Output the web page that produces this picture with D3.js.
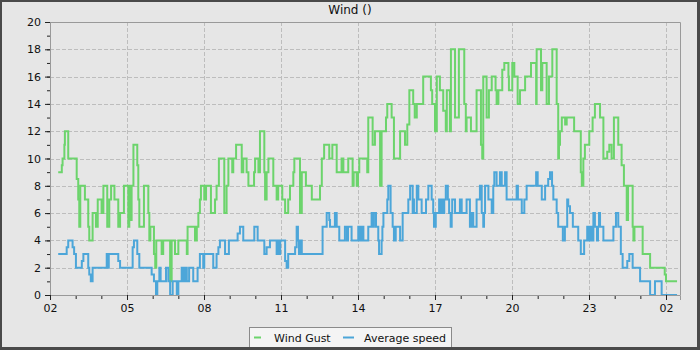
<!DOCTYPE html>
<html><head><meta charset="utf-8">
<script src="https://cdn.jsdelivr.net/npm/d3@7"></script>
<style>html,body{margin:0;padding:0;background:#fff}svg{display:block}</style>
</head><body><svg id="c" width="700" height="350"></svg>
<script>
const chartTitle = "Wind ()";
const seriesNames = ["Wind Gust", "Average speed"];
const seriesColors = ["#6cd46c", "#4ca6d9"];
const xTickHours = [2, 5, 8, 11, 14, 17, 20, 23, 26];
const xTickLabels = ["02", "05", "08", "11", "14", "17", "20", "23", "02"];
const yTickValues = [0, 2, 4, 6, 8, 10, 12, 14, 16, 18, 20];
const xDomain = [2, 26.545];
const yDomain = [0, 20];

// [hour, value] change points (step-after)
const windGust = [[2.32,9],[2.46,9.5],[2.49,10],[2.56,11],[2.58,12],[2.71,10],[3.04,8.5],[3.10,7],[3.14,5],[3.18,8],[3.36,7],[3.49,5],[3.53,4],[3.66,6],[3.79,5],[3.86,7],[4.01,6],[4.08,8],[4.23,5],[4.31,7],[4.38,8],[4.51,7],[4.66,5],[4.73,6],[4.88,8],[5.05,5],[5.09,8],[5.14,5.5],[5.18,8],[5.25,11],[5.40,9.5],[5.44,7],[5.48,5],[5.66,8],[5.83,6],[5.87,4],[5.91,5],[6.05,3],[6.10,2],[6.14,4],[6.35,3],[6.41,4],[6.68,1],[6.74,4],[6.87,3],[7.00,4],[7.33,3],[7.36,5],[7.65,4],[7.72,5],[7.78,6],[7.84,7],[7.88,8],[8.01,7],[8.08,8],[8.27,6],[8.43,7],[8.49,8],[8.58,10],[8.79,6],[8.88,8],[8.95,10],[9.10,9],[9.14,10],[9.25,11],[9.47,9],[9.53,10],[9.66,9],[9.73,8],[9.95,9],[9.99,10],[10.12,9],[10.18,12],[10.35,9],[10.38,7],[10.44,9],[10.51,10],[10.70,8],[10.83,7],[10.89,8],[11.05,7],[11.16,6],[11.28,7],[11.35,8],[11.48,9],[11.52,10],[11.74,6],[11.81,9],[11.97,8],[12.20,7],[12.52,8],[12.59,10],[12.68,11],[12.88,10],[13.00,11],[13.17,9],[13.36,10],[13.43,9],[13.62,10],[13.79,8],[13.83,9],[13.95,8],[14.00,9],[14.05,10],[14.36,9],[14.40,13],[14.57,11],[14.66,12],[14.86,8],[14.92,12],[15.09,13],[15.14,14],[15.31,13],[15.40,10],[15.64,12],[15.83,11],[15.92,12.5],[16.00,15],[16.15,14],[16.21,13],[16.29,14],[16.54,16],[16.84,15],[16.89,14],[17.00,12],[17.07,16],[17.19,15],[17.32,13.5],[17.42,12],[17.46,15],[17.58,12],[17.62,18],[17.78,13],[17.93,18],[18.14,14],[18.20,12],[18.23,13],[18.40,12],[18.62,15],[18.79,11],[18.84,10],[18.88,16],[19.01,13],[19.10,15],[19.21,16],[19.36,15],[19.40,14],[19.47,15],[19.62,16.5],[19.70,17],[19.86,16],[19.88,15],[20.01,17],[20.09,16],[20.22,14],[20.31,15],[20.51,16],[20.74,17],[20.94,14],[20.96,18],[21.13,15],[21.18,17],[21.35,14],[21.44,16],[21.57,18],[21.74,14],[21.80,10],[21.83,11],[21.87,12],[21.94,13],[22.07,12.5],[22.13,13],[22.42,12],[22.68,9],[22.72,8],[22.78,10],[22.84,11],[23.01,12],[23.14,13],[23.23,14],[23.43,13],[23.56,10],[23.71,10.5],[23.79,11],[23.88,10],[23.97,13],[24.14,11],[24.27,9.5],[24.36,8],[24.47,5.5],[24.52,8],[24.70,5],[24.73,4],[24.77,5],[25.09,3],[25.38,2],[25.95,1.5],[26.00,1],[26.43,1]];

const avgSpeed = [[2.32,3],[2.65,3.5],[2.71,4],[2.88,3.5],[2.94,3],[3.01,2],[3.24,2.5],[3.30,3],[3.49,2],[3.53,1.5],[3.59,1],[3.66,2],[4.21,3],[4.25,2],[4.29,3],[4.66,2.5],[4.73,2],[5.22,3.5],[5.27,4],[5.40,3],[5.48,2],[5.96,1.5],[6.05,1],[6.13,0],[6.18,1],[6.26,2],[6.31,1],[6.52,2],[6.61,1],[6.68,0],[6.78,1],[6.94,0],[7.00,1],[7.13,2],[7.19,1],[7.26,2],[7.33,1],[7.42,2],[7.58,1],[7.75,2],[7.84,3],[7.97,2],[8.01,3],[8.36,2],[8.49,3],[8.56,3.5],[8.62,4],[8.82,3],[8.97,4],[9.31,4.5],[9.40,5],[9.53,4],[9.96,5],[10.09,4],[10.35,3],[10.44,3.5],[10.57,4],[10.83,3],[10.88,4],[10.92,3],[10.97,4],[11.16,2.5],[11.22,2],[11.28,3],[11.55,3.5],[11.61,5],[11.66,4],[11.70,3],[11.74,4],[11.81,3],[12.62,5],[12.78,6],[12.88,5.5],[12.91,5],[13.10,6],[13.17,5],[13.27,4],[13.49,5],[13.57,4],[13.61,5],[13.75,4],[14.01,5],[14.08,4],[14.14,5],[14.21,4],[14.40,5],[14.53,6],[14.57,5],[14.62,6],[14.70,5],[14.79,4],[14.82,3],[14.92,4],[14.95,5],[14.99,6],[15.14,7],[15.18,8],[15.27,6],[15.35,5],[15.40,4],[15.47,5],[15.64,4],[15.74,6],[15.96,7],[16.03,8],[16.13,6],[16.15,7],[16.18,6],[16.29,8],[16.35,7],[16.48,6],[16.65,7],[16.74,8],[16.87,7],[16.93,6],[16.96,5],[17.03,6],[17.16,7],[17.22,6],[17.26,7],[17.32,6],[17.36,7],[17.42,8],[17.50,7],[17.55,6],[17.61,5],[17.65,6],[17.67,7],[17.78,6],[17.97,7],[18.04,6],[18.23,7],[18.36,5],[18.43,6],[18.49,5],[18.62,7],[18.75,8],[18.82,6],[18.88,5],[18.91,6],[18.95,8],[19.08,7],[19.21,6],[19.27,8],[19.31,9],[19.40,8],[19.53,9],[19.60,8],[19.73,9],[19.79,7],[20.18,8],[20.23,7],[20.38,6],[20.48,7],[20.57,8],[20.94,9],[21.00,8],[21.16,7],[21.29,8],[21.41,8.5],[21.48,9],[21.56,8],[21.61,7],[21.74,6],[21.80,5],[21.98,4],[22.06,5],[22.15,7],[22.19,6.5],[22.26,6],[22.37,5],[22.58,4],[22.68,3],[22.81,4],[22.93,5],[22.97,4],[23.04,5],[23.10,4],[23.17,6],[23.23,5],[23.31,4],[23.35,5],[23.39,6],[23.43,5],[23.56,4],[23.95,5],[24.05,6],[24.14,5],[24.24,3],[24.31,2],[24.49,2.5],[24.57,3],[24.70,2],[24.99,1],[25.38,0],[25.57,1],[25.83,0],[26.43,0]];

const font = "'DejaVu Sans', sans-serif";
const W = 700, H = 350;
const plot = {left: 50, right: 680, top: 22, bottom: 295};

const svg = d3.select("#c");
// frame
svg.append("rect").attr("width", W).attr("height", H).attr("fill", "#4a4a4a");
svg.append("rect").attr("x", 2).attr("y", 2).attr("width", W - 5).attr("height", H - 5).attr("fill", "#e6e6e6");

const x = d3.scaleLinear().domain(xDomain).range([plot.left, plot.right]);
const y = d3.scaleLinear().domain(yDomain).range([plot.bottom, plot.top]);

// grid
const grid = svg.append("g").attr("stroke", "#bdbdbd").attr("stroke-width", 1).attr("stroke-dasharray", "4,2");
grid.selectAll("line.v").data(xTickHours.filter(h => x(h) > plot.left + 1 && x(h) < plot.right - 1)).join("line")
  .attr("x1", d => Math.round(x(d)) + 0.5).attr("x2", d => Math.round(x(d)) + 0.5)
  .attr("y1", plot.top).attr("y2", plot.bottom);
grid.selectAll("line.h").data(yTickValues.filter(v => v > yDomain[0] && v < yDomain[1])).join("line")
  .attr("y1", d => Math.round(y(d)) + 0.5).attr("y2", d => Math.round(y(d)) + 0.5)
  .attr("x1", plot.left).attr("x2", plot.right);

// plot border (top/right)
svg.append("path").attr("d", `M${plot.left},${plot.top + 0.5}H${plot.right + 0.5}V${plot.bottom}`)
  .attr("fill", "none").attr("stroke", "#999").attr("stroke-width", 1);

// series
const line = d3.line().x(d => x(d[0])).y(d => y(d[1])).curve(d3.curveStepAfter);
const clip = svg.append("clipPath").attr("id", "clp").append("rect")
  .attr("x", plot.left).attr("y", plot.top - 2).attr("width", plot.right - plot.left).attr("height", plot.bottom - plot.top + 3);
[windGust, avgSpeed].forEach((s, i) => {
  svg.append("path").datum(s).attr("d", line).attr("fill", "none")
    .attr("stroke", seriesColors[i]).attr("stroke-width", 2).attr("clip-path", "url(#clp)");
});

// axes
const yMinor = d3.axisLeft(y).tickValues(d3.range(yDomain[0], yDomain[1] + 1, 1)).tickSize(3).tickFormat("");
const yMajor = d3.axisLeft(y).tickValues(yTickValues).tickSize(5).tickPadding(4).tickFormat(d3.format("d"));
const xMinor = d3.axisBottom(x).tickValues(d3.range(2, 27, 1)).tickSize(4).tickFormat("");
const xMajor = d3.axisBottom(x).tickValues(xTickHours).tickSize(5).tickPadding(4).tickFormat((d, i) => xTickLabels[i]);

function styleAxis(g) {
  g.select(".domain").attr("stroke", "#999");
  g.selectAll(".tick line").attr("stroke", "#222");
  g.selectAll(".tick text").attr("fill", "#111").style("font-family", font).style("font-size", "11px");
}
svg.append("g").attr("transform", `translate(${plot.left},0)`).call(yMinor).call(g => g.select(".domain").remove()).call(styleAxis);
svg.append("g").attr("transform", `translate(${plot.left},0)`).call(yMajor).call(styleAxis);
svg.append("g").attr("transform", `translate(0,${plot.bottom})`).call(xMinor).call(g => g.select(".domain").remove()).call(styleAxis);
svg.append("g").attr("transform", `translate(0,${plot.bottom})`).call(xMajor).call(styleAxis);

// title
svg.append("text").attr("x", 350).attr("y", 14).attr("text-anchor", "middle")
  .style("font-family", font).style("font-size", "12px").attr("fill", "#111").text(chartTitle);

// legend
const lg = svg.append("g");
lg.append("rect").attr("x", 249.5).attr("y", 327.5).attr("width", 202).attr("height", 22)
  .attr("fill", "#f4f4f4").attr("stroke", "#8a8a8a");
const legendX = [254, 343];
seriesNames.forEach((n, i) => {
  lg.append("line").attr("x1", legendX[i]).attr("x2", legendX[i] + 7 + (i ? 4 : 0)).attr("y1", 337.5).attr("y2", 337.5)
    .attr("stroke", seriesColors[i]).attr("stroke-width", 2);
  lg.append("text").attr("x", legendX[i] + 20 + (i ? 1 : 0)).attr("y", 341.5)
    .style("font-family", font).style("font-size", "11px").attr("fill", "#111").text(n);
});
// redraw frame bottom over legend
svg.append("rect").attr("x", 0).attr("y", H - 3).attr("width", W).attr("height", 3).attr("fill", "#4a4a4a");
</script></body></html>
